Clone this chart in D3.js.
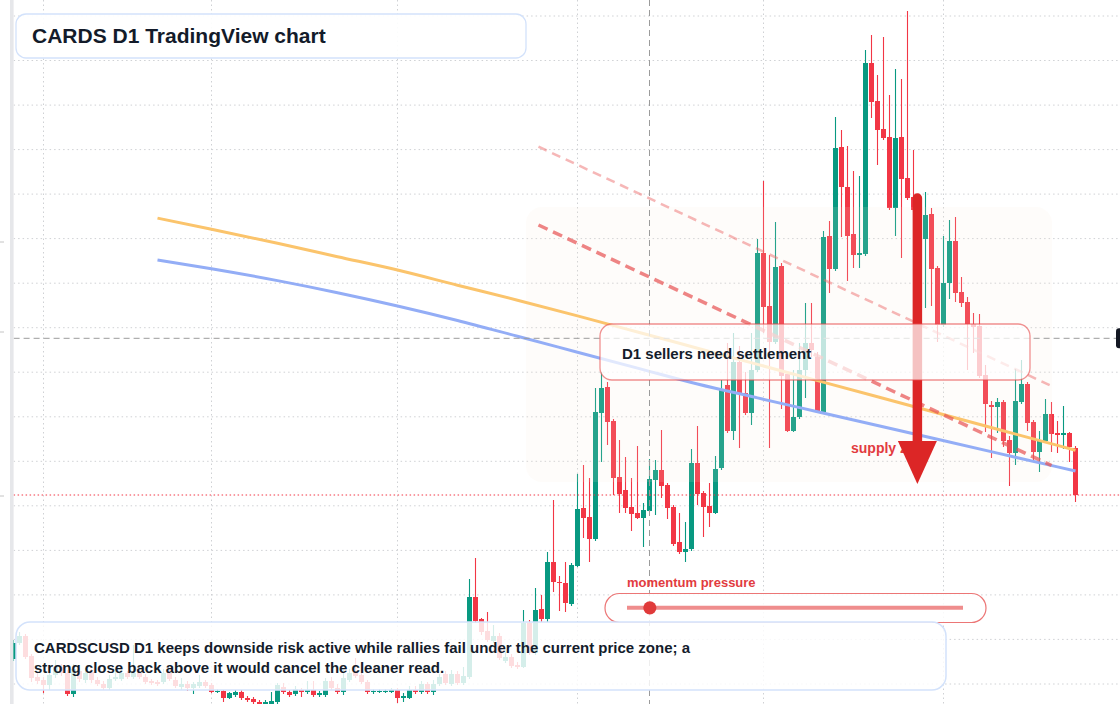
<!DOCTYPE html>
<html><head><meta charset="utf-8">
<script src="https://cdn.jsdelivr.net/npm/d3@7"></script>
<style>html,body{margin:0;padding:0;background:#fff;overflow:hidden}svg{display:block;font-family:"Liberation Sans",Arial,sans-serif}</style>
</head><body><svg id="chart" width="1120" height="704"></svg>
<script>
// ---------- data ----------
const startDate = "2025-01-27";
const endDate = "2025-07-23";
const opens = [14.1,15.7,16.4,14.4,12.3,12.0,11.5,12.5,13.3,12.7,10.6,12.9,12.0,12.8,12.0,11.6,11.2,12.1,12.1,12.7,12.3,12.7,12.3,11.9,11.8,11.8,12.7,12.0,11.3,11.6,
11.2,11.4,11.8,11.5,10.8,10.9,10.2,10.5,10.8,10.2,10.1,9.8,9.6,9.6,9.8,11.3,10.8,10.6,11.0,10.8,11.0,10.5,10.5,11.9,11.2,10.8,12.0,12.7,12.5,11.8,
10.8,10.8,10.8,10.8,11.0,10.2,10.2,11.0,10.8,11.6,10.8,11.6,12.6,11.6,12.6,11.7,12.3,20.3,18.1,16.9,15.9,16.4,13.9,14.3,13.5,13.3,17.7,14.7,19.1,18.1,
23.8,21.8,21.7,19.6,23.4,29.2,28.3,26.1,38.7,41.3,37.9,32.3,31.0,29.3,28.7,28.2,28.9,32.0,33.0,31.5,29.3,25.8,24.8,25.1,33.7,30.7,29.4,28.7,33.2,41.5,
36.9,43.8,40.7,38.7,43.0,54.7,49.4,45.8,53.4,42.6,36.9,38.3,43.0,45.7,44.3,38.8,56.4,53.1,65.3,61.3,56.6,54.5,54.6,73.7,69.9,67.1,66.3,59.2,66.3,62.2,
60.3,59.1,56.1,58.6,53.2,47.5,51.7,55.9,50.8,49.8,47.6,47.4,42.5,39.5,39.3,39.8,36.0,34.7,39.8,41.6,37.8,34.8,35.9,38.6,36.7,36.5,36.7,35.2];
const highs = [16.0,16.8,16.6,14.6,12.8,12.3,12.9,14.0,13.6,13.0,13.6,13.2,13.2,13.1,12.3,11.9,12.5,13.1,13.0,12.9,15.5,13.0,12.6,12.1,12.0,13.1,13.0,12.3,12.2,11.9,
11.8,12.5,12.0,11.7,11.1,11.0,10.8,11.0,11.0,10.4,10.3,10.0,10.0,10.8,11.7,11.7,11.0,11.4,11.2,11.9,11.9,10.9,12.2,12.3,11.6,13.0,13.1,14.2,13.0,12.0,
11.1,11.1,11.1,11.2,11.2,10.7,11.4,11.4,11.9,11.8,12.0,12.6,12.9,13.0,12.9,13.3,22.1,24.2,18.2,18.8,17.5,16.7,14.8,14.6,13.8,19.0,18.0,21.2,20.5,24.8,
30.0,22.4,23.8,23.7,32.6,33.5,32.2,41.2,42.8,41.8,38.1,36.0,34.3,32.2,35.4,29.7,34.1,34.0,37.0,31.7,29.5,28.7,27.8,35.1,37.4,30.9,31.7,34.4,42.0,45.7,
46.7,45.4,42.8,46.7,56.1,61.9,54.5,57.8,53.7,42.8,43.0,45.7,49.7,49.7,44.8,56.9,57.9,68.3,67.0,65.4,62.9,62.4,75.0,76.5,72.5,76.3,70.5,73.1,72.1,78.9,
65.0,60.2,60.8,59.2,53.4,56.4,58.0,58.3,52.3,50.3,48.7,48.6,43.5,39.9,40.2,40.0,36.4,43.1,44.0,41.8,38.0,36.9,40.1,39.8,37.9,39.4,36.8,35.4];
const lows = [13.9,15.5,14.1,11.8,11.6,10.7,11.0,12.2,12.4,10.4,10.3,11.8,11.7,11.7,11.4,11.0,11.0,11.9,11.9,12.1,12.1,12.1,11.6,11.5,11.4,11.6,11.9,11.2,11.0,10.9,
10.6,11.2,11.2,10.7,10.7,9.8,10.1,10.3,10.0,9.8,9.6,9.4,9.4,9.5,9.6,10.6,10.3,10.4,10.3,10.6,10.3,10.3,10.3,11.0,10.6,10.5,11.8,12.2,11.6,10.6,
10.6,10.7,10.7,10.7,9.7,9.8,10.1,10.6,10.6,10.6,10.5,11.4,11.5,11.4,11.5,11.5,12.1,17.7,16.5,15.8,15.7,14.0,13.7,13.2,13.1,13.2,14.5,14.5,17.8,17.8,
20.8,18.9,18.8,19.4,23.3,26.2,23.8,25.9,33.8,35.5,30.5,28.7,28.7,26.9,28.1,25.3,28.8,28.5,30.2,28.1,25.4,24.6,23.8,24.9,29.5,26.3,27.3,28.6,33.0,36.7,
36.0,35.2,38.5,37.5,42.8,46.7,35.2,45.6,39.1,36.8,36.8,38.1,40.2,44.3,38.7,38.7,50.7,52.9,56.3,51.9,53.2,53.2,54.4,68.2,63.5,66.0,59.0,56.4,54.2,60.0,
58.8,55.5,49.2,49.4,45.8,47.3,50.1,49.8,49.3,43.0,44.7,42.2,36.8,34.2,36.7,35.3,31.4,33.5,39.6,36.9,34.0,32.8,35.7,34.8,34.7,35.1,33.8,29.8];
const closes = [15.7,16.4,14.3,12.2,11.9,11.5,12.5,13.3,12.7,10.6,13.1,12.1,12.7,12.0,11.6,11.2,12.1,12.3,12.7,12.3,12.7,12.3,11.8,11.7,11.6,12.7,12.1,11.4,11.6,11.2,
11.6,11.8,11.4,10.8,10.9,10.2,10.7,10.8,10.2,10.0,9.8,9.6,9.8,9.9,11.5,10.8,10.5,11.1,10.8,11.0,10.5,10.7,11.9,11.2,10.8,12.2,12.7,12.4,11.8,10.8,
10.9,10.9,10.9,11.0,10.2,10.4,11.0,10.8,11.6,10.8,11.6,12.3,11.7,12.6,11.7,12.4,20.3,17.9,16.8,16.0,16.4,14.2,14.3,13.4,13.3,17.7,14.7,19.0,18.1,23.8,
21.8,21.7,19.7,23.5,29.1,28.2,26.1,38.8,41.2,37.8,32.2,30.6,29.2,28.6,28.2,29.0,32.1,33.0,31.4,29.2,25.6,24.8,25.1,33.7,30.6,29.3,28.7,33.1,41.0,36.9,
43.8,40.7,38.7,43.0,54.7,49.3,45.8,53.3,42.4,36.9,38.3,43.0,45.7,45.0,38.9,56.3,53.1,65.2,61.3,56.4,54.5,54.7,73.7,69.8,67.0,66.2,59.2,66.2,62.1,60.2,
59.0,56.1,58.5,53.1,47.5,51.7,55.9,50.7,49.7,47.6,47.3,42.4,39.6,39.3,39.8,35.9,34.7,39.9,41.6,37.7,34.8,36.0,38.6,36.6,36.5,36.7,35.3,30.5];
const priceTicks = [78.4,73.95,69.49,65.04,60.59,56.14,51.68,47.23,42.78,38.32,33.87,29.42,24.96,20.51,16.06,11.6];
const leftAxisTicks = [55.8,46.8,30.4];
const maDates = ["2025-02-20","2025-03-01","2025-03-12","2025-03-22","2025-04-01","2025-04-11","2025-04-21","2025-05-01","2025-05-11","2025-05-21","2025-05-31","2025-06-10","2025-06-20","2025-06-30","2025-07-10","2025-07-20","2025-07-23"];
const maOrange = [58.19,57.08,55.67,54.33,53.0,51.48,49.98,48.41,46.8,45.18,43.56,41.94,40.32,38.7,37.08,35.46,34.97];
const maBlue = [53.99,53.13,51.94,50.73,49.4,47.95,46.37,44.78,43.19,41.6,40.21,38.83,37.45,36.07,34.69,33.31,32.9];
const trendDates = ["2025-04-24T12:00:00Z","2025-07-19T00:00:00Z"];
const trendPale = [65.33,41.4];
const trendStrong = [57.5,33.45];
const zoneDates = ["2025-04-22T10:00:00Z","2025-07-19T02:00:00Z"];
const zonePrices = [59.3,31.8];
const arrowDate = "2025-06-26T15:30:00Z";
const arrowPrices = [60.2,31.6];
const crossDate = "2025-05-13";
const crossPrice = 46.17;
const momentumValue = 0.068;
const titleText = "CARDS D1 TradingView chart";
const calloutText = "D1 sellers need settlement";
const zoneText = "supply zone";
const momentumText = "momentum pressure";
const noteLines = ["CARDSCUSD D1 keeps downside risk active while rallies fail under the current price zone; a",
                   "strong close back above it would cancel the cleaner read."];

// ---------- setup ----------
const W = 1120, H = 704, plotLeft = 13.6;
const svg = d3.select("#chart");
const dates = d3.utcDay.range(new Date(startDate), d3.utcDay.offset(new Date(endDate), 1));
const candles = dates.map((d, i) => ({d, o: opens[i], h: highs[i], l: lows[i], c: closes[i]}));
const x = d3.scaleUtc().domain([new Date(startDate), new Date(endDate)]).range([13.5, 1075.5]);
const y = d3.scaleLinear().domain([80, 9.6]).range([0, H]);
const up = "#089981", dn = "#f23645";

svg.append("rect").attr("width", W).attr("height", H).attr("fill", "#fff");
svg.append("defs").append("clipPath").attr("id", "plot")
  .append("rect").attr("x", plotLeft).attr("y", 0).attr("width", W - plotLeft).attr("height", H);

// left strip and ticks
svg.append("rect").attr("x", 10).attr("y", 0).attr("width", 3.6).attr("height", H).attr("fill", "#e6e7ea");
svg.selectAll("line.lt").data(leftAxisTicks).join("line").attr("class", "lt")
  .attr("x1", 0).attr("x2", 4).attr("y1", d => y(d)).attr("y2", d => y(d))
  .attr("stroke", "#c4c4c4").attr("stroke-width", 1);

const plot = svg.append("g").attr("clip-path", "url(#plot)");

// grid
plot.selectAll("line.hg").data(priceTicks).join("line").attr("class", "hg")
  .attr("x1", plotLeft).attr("x2", W).attr("y1", d => y(d)).attr("y2", d => y(d))
  .attr("stroke", "#cfd1d4").attr("stroke-width", 1).attr("stroke-dasharray", "1.5,3");
plot.selectAll("line.vg").data(x.ticks(d3.utcMonth.every(1))).join("line").attr("class", "vg")
  .attr("x1", d => x(d)).attr("x2", d => x(d)).attr("y1", 0).attr("y2", H)
  .attr("stroke", "#cfd1d4").attr("stroke-width", 1).attr("stroke-dasharray", "1.5,3");

// candles
plot.selectAll("line.wick").data(candles).join("line").attr("class", "wick")
  .attr("x1", d => Math.round(x(d.d) - 0.5) + 0.5).attr("x2", d => Math.round(x(d.d) - 0.5) + 0.5)
  .attr("y1", d => y(d.h)).attr("y2", d => y(d.l))
  .attr("stroke", d => d.c >= d.o ? up : dn).attr("stroke-width", 1.1);
const bw = 5;
plot.selectAll("rect.body").data(candles).join("rect").attr("class", "body")
  .attr("x", d => Math.round(x(d.d) - bw / 2)).attr("width", bw)
  .attr("y", d => y(Math.max(d.o, d.c)))
  .attr("height", d => Math.max(1, Math.abs(y(d.o) - y(d.c))))
  .attr("fill", d => d.c >= d.o ? up : dn);

// supply zone
const zx0 = x(new Date(zoneDates[0])), zx1 = x(new Date(zoneDates[1]));
plot.append("rect").attr("x", zx0).attr("y", y(zonePrices[0]))
  .attr("width", zx1 - zx0).attr("height", y(zonePrices[1]) - y(zonePrices[0]))
  .attr("rx", 16).attr("fill", "rgba(244,228,218,0.13)");

// moving averages
const maLine = d3.line().x(d => x(new Date(d[0]))).y(d => y(d[1])).curve(d3.curveMonotoneX);
plot.append("path").attr("d", maLine(maDates.map((d, i) => [d, maOrange[i]])))
  .attr("fill", "none").attr("stroke", "#fbc46c").attr("stroke-width", 3);
plot.append("path").attr("d", maLine(maDates.map((d, i) => [d, maBlue[i]])))
  .attr("fill", "none").attr("stroke", "#93adf6").attr("stroke-width", 3);

// trendlines
const tl = d3.line().x(d => x(new Date(d[0]))).y(d => y(d[1]));
plot.append("path").attr("d", tl(trendDates.map((d, i) => [d, trendPale[i]])))
  .attr("fill", "none").attr("stroke", "rgba(238,112,112,0.5)").attr("stroke-width", 2.5).attr("stroke-dasharray", "9,6");
plot.append("path").attr("d", tl(trendDates.map((d, i) => [d, trendStrong[i]])))
  .attr("fill", "none").attr("stroke", "rgba(232,86,86,0.72)").attr("stroke-width", 3.5).attr("stroke-dasharray", "10,6");

// crosshair and price line
plot.append("line").attr("x1", x(new Date(crossDate))).attr("x2", x(new Date(crossDate)))
  .attr("y1", 0).attr("y2", H).attr("stroke", "#9b9b9b").attr("stroke-width", 1).attr("stroke-dasharray", "6,4");
plot.append("line").attr("x1", plotLeft).attr("x2", W).attr("y1", y(crossPrice)).attr("y2", y(crossPrice))
  .attr("stroke", "#9b9b9b").attr("stroke-width", 1).attr("stroke-dasharray", "6,4");
const lastClose = closes[closes.length - 1];
plot.append("line").attr("x1", plotLeft).attr("x2", W).attr("y1", y(lastClose)).attr("y2", y(lastClose))
  .attr("stroke", dn).attr("stroke-width", 1).attr("stroke-dasharray", "1.5,2.5");
svg.append("rect").attr("x", 1116).attr("y", y(crossPrice) - 10).attr("width", 12).attr("height", 20)
  .attr("rx", 3).attr("fill", "#131722");

// supply zone label
svg.append("text").attr("x", 851).attr("y", 453).attr("font-size", 14).attr("font-weight", 700)
  .attr("fill", "#e23b40").text(zoneText);

// arrow
const ax = x(new Date(arrowDate)), ay0 = y(arrowPrices[0]), ay1 = y(arrowPrices[1]);
const headLen = 43, headHalf = 19.5;
svg.append("line").attr("x1", ax).attr("x2", ax).attr("y1", ay0).attr("y2", ay1 - headLen + 2)
  .attr("stroke", "#dc2626").attr("stroke-width", 9.5).attr("stroke-linecap", "round");
svg.append("path").attr("d", `M${ax - headHalf},${ay1 - headLen}L${ax + headHalf},${ay1 - headLen}L${ax},${ay1}Z`)
  .attr("fill", "#dc2626");

// callout box
svg.append("rect").attr("x", 600).attr("y", 324).attr("width", 430).attr("height", 56).attr("rx", 12)
  .attr("fill", "rgba(255,255,255,0.72)").attr("stroke", "rgba(230,72,72,0.6)").attr("stroke-width", 1.3);
svg.append("text").attr("x", 622).attr("y", 359).attr("font-size", 15).attr("font-weight", 700)
  .attr("fill", "#141c2b").text(calloutText);

// title box
svg.append("rect").attr("x", 16).attr("y", 14).attr("width", 510).attr("height", 44).attr("rx", 10)
  .attr("fill", "rgba(255,255,255,0.92)").attr("stroke", "#d3e2fb").attr("stroke-width", 1.3);
svg.append("text").attr("x", 32).attr("y", 43.3).attr("font-size", 21).attr("font-weight", 700)
  .attr("fill", "#131b2a").text(titleText);

// momentum widget
svg.append("text").attr("x", 627).attr("y", 587.3).attr("font-size", 13).attr("font-weight", 700)
  .attr("fill", "#e23b40").text(momentumText);
svg.append("rect").attr("x", 605).attr("y", 593.5).attr("width", 381).attr("height", 29).attr("rx", 14.5)
  .attr("fill", "rgba(255,255,255,0.85)").attr("stroke", "#ec7676").attr("stroke-width", 1.2);
const m = d3.scaleLinear().domain([0, 1]).range([627, 963]);
svg.append("line").attr("x1", m(0)).attr("x2", m(1)).attr("y1", 607.8).attr("y2", 607.8)
  .attr("stroke", "rgba(230,80,80,0.65)").attr("stroke-width", 4);
svg.append("circle").attr("cx", m(momentumValue)).attr("cy", 607.8).attr("r", 6.6).attr("fill", "#e03a3a");

// note box
svg.append("rect").attr("x", 16).attr("y", 622).attr("width", 930).attr("height", 68).attr("rx", 14)
  .attr("fill", "rgba(255,255,255,0.83)").attr("stroke", "#d3e2fb").attr("stroke-width", 1.5);
svg.selectAll("text.note").data(noteLines).join("text").attr("class", "note")
  .attr("x", 34).attr("y", (d, i) => 653.3 + i * 19.7)
  .attr("font-size", 15).attr("font-weight", 700).attr("fill", "#141c2b").text(d => d);
</script></body></html>
